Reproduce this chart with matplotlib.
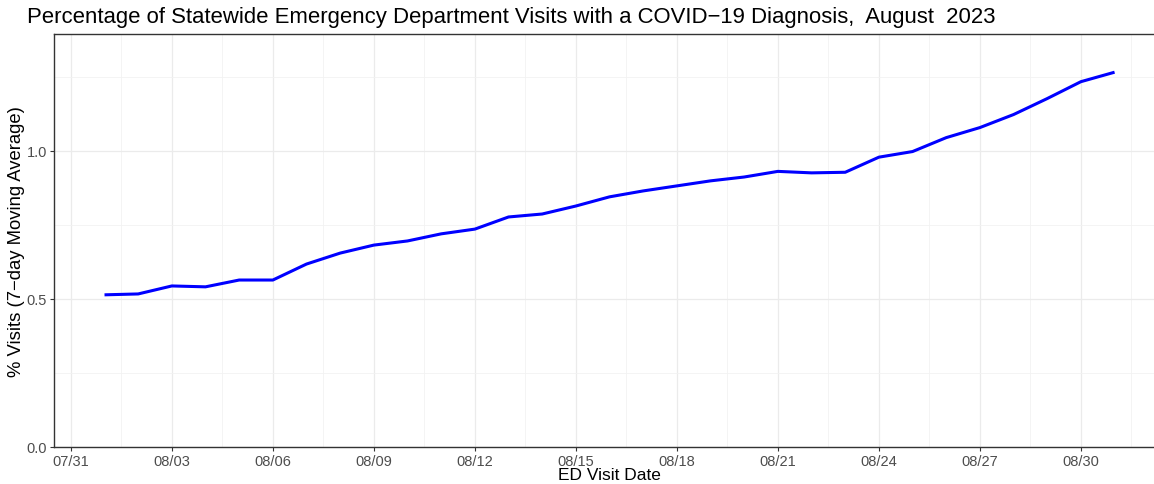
import pandas as pd
import numpy as np
import matplotlib
matplotlib.use("Agg")
import matplotlib.pyplot as plt
import matplotlib.dates as mdates

plt.rcParams['font.family'] = ['Liberation Sans', 'DejaVu Sans']

# 7-day moving average of % ED visits with COVID-19 diagnosis, August 2023
dates = pd.date_range('2023-08-01', '2023-08-31', freq='D')
pct_visits = [0.514, 0.517, 0.544, 0.541, 0.564, 0.564, 0.618, 0.655, 0.682, 0.696,
              0.720, 0.736, 0.777, 0.787, 0.814, 0.845, 0.865, 0.882, 0.899, 0.912,
              0.931, 0.926, 0.928, 0.979, 0.998, 1.045, 1.079, 1.123, 1.177, 1.234,
              1.266]
y_ticks = [0.0, 0.5, 1.0]
y_minor = [0.25, 0.75, 1.25]

fig = plt.figure(figsize=(11.54, 4.85), dpi=100)
ax = fig.add_axes([0.0468, 0.0763, 0.9628, 0.8515])

ax.plot(dates, pct_visits, color='#0000FF', linewidth=2.2, solid_capstyle='butt', zorder=3)

ax.set_xlim(pd.Timestamp('2023-07-30 12:00'), pd.Timestamp('2023-09-01 12:00'))
ax.set_ylim(0, 1.395)

# x ticks every 3 days starting 07/31, minor grid half way between
major = pd.date_range('2023-07-31', '2023-08-30', freq='3D')
minor = major + pd.Timedelta(hours=36)
ax.set_xticks(major)
ax.set_xticks(minor, minor=True)
ax.xaxis.set_major_formatter(mdates.DateFormatter('%m/%d'))
ax.set_yticks(y_ticks)
ax.set_yticks(y_minor, minor=True)
ax.yaxis.set_major_formatter(matplotlib.ticker.FormatStrFormatter('%.1f'))

ax.grid(which='major', color='#EBEBEB', linewidth=0.9, zorder=0)
ax.grid(which='minor', color='#F2F2F2', linewidth=0.6, zorder=0)
ax.set_axisbelow(True)

for s in ax.spines.values():
    s.set_color('#333333')
    s.set_linewidth(1.0)

ax.tick_params(which='major', length=3, width=0.8, color='#333333',
               labelsize=10.5, labelcolor='#4D4D4D', pad=2)
ax.tick_params(which='minor', length=0)

ax.set_xlabel('ED Visit Date', fontsize=12.5, color='black', labelpad=-1)
ax.set_ylabel('% Visits (7\u2212day Moving Average)', fontsize=13.3, color='black', labelpad=1)

fig.text(0.0234, 0.963, 'Percentage of Statewide Emergency Department Visits with a COVID\u221219 Diagnosis,  August  2023',
         fontsize=15.9, color='black', ha='left', va='center')

fig.savefig('out.png', dpi=100)
